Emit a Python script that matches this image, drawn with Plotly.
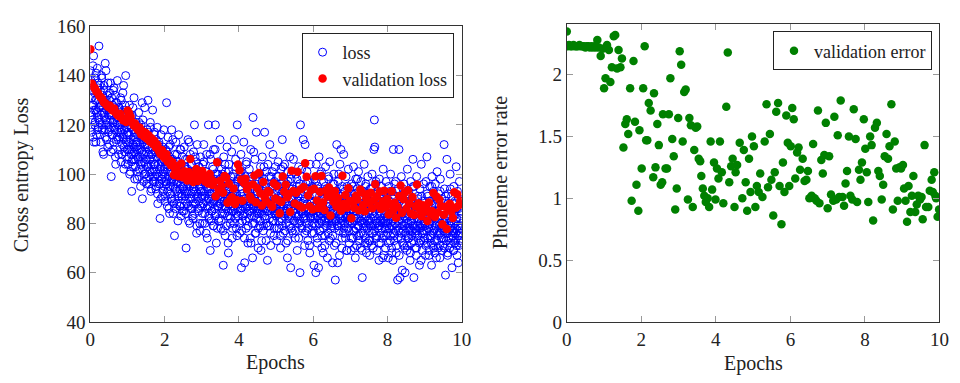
import plotly.graph_objects as go

# ---------------- data ----------------
# training loss, logged at even batches
loss_values_even = [
    142,119,131,124,137,128,115,148,126,133,121,139,113,130,125,143,118,135,127,122,
    136,116,129,124,140,120,132,109,127,134,118,125,145,122,130,114,128,121,137,117,
    126,112,133,119,124,99,131,116,128,110,122,135,118,126,107,129,114,121,138,117,
    123,108,127,115,120,131,105,118,124,112,133,116,102,121,109,126,140,114,119,106,
    117,104,123,110,128,113,101,119,108,93,124,112,106,118,131,109,115,103,121,111,
    113,98,119,107,125,102,116,110,95,120,105,114,90,122,108,117,100,127,112,104,
    109,96,118,103,130,111,99,115,106,121,93,108,113,101,126,97,110,104,117,99,
    104,94,114,100,119,88,107,112,96,109,82,103,116,98,105,91,111,101,118,95,
    102,89,110,97,129,104,93,115,99,86,107,95,112,101,90,118,98,106,84,103,
    99,75,108,94,113,102,88,97,105,92,116,100,87,110,96,83,104,91,107,98,
    95,85,111,93,103,89,70,99,106,92,114,87,101,95,80,108,97,90,104,86,
    96,82,109,94,120,100,88,93,105,79,112,91,98,85,103,94,77,107,90,99,
    93,80,104,88,112,97,84,91,101,76,108,95,87,99,120,90,82,94,69,106,
    96,85,92,103,79,110,89,98,83,120,94,72,100,87,91,105,81,96,88,114,
    90,78,102,93,84,99,63,107,89,95,75,101,86,92,111,83,97,68,104,90,
    94,80,99,87,109,74,92,85,100,89,114,96,82,103,78,91,120,86,98,88,
    90,76,101,86,108,62,94,81,97,88,113,84,64,99,90,78,105,87,93,72,
    96,85,102,89,74,110,91,83,98,66,123,87,95,80,106,89,76,117,92,84,
    88,70,100,86,95,79,103,69,91,84,107,94,77,98,88,117,82,96,73,101,
    89,65,104,85,93,79,112,90,71,99,86,94,81,108,88,75,97,84,103,90,
    87,73,99,84,105,91,78,95,86,70,102,88,81,114,93,76,97,85,104,89,
    84,72,96,88,66,101,83,92,79,107,86,62,98,90,77,94,85,106,81,93,
    88,74,100,83,95,69,91,87,103,80,96,60,120,85,92,78,99,84,114,89,
    86,71,112,82,94,77,101,88,73,97,85,91,68,104,83,89,76,95,87,80,
    85,63,98,80,91,60,104,86,74,95,83,62,107,88,77,93,82,101,70,90,
    86,68,97,81,92,75,103,84,79,94,66,88,99,82,73,105,87,78,91,83,
    80,64,96,85,100,71,89,57,93,81,112,86,64,97,79,90,67,104,84,110,
    82,70,95,86,76,108,89,80,93,74,99,83,69,91,78,102,85,72,94,81,
    83,69,96,80,92,74,103,85,77,89,66,98,82,71,94,87,79,101,75,90,
    84,70,97,81,88,58,93,76,86,104,80,72,95,83,68,91,78,99,85,73,
    81,67,94,79,89,71,100,84,76,92,110,122,111,80,96,74,87,69,93,82,
    79,65,98,83,90,72,95,78,86,66,102,81,75,91,84,70,97,80,88,76,
    81,66,95,78,89,73,100,84,70,93,79,65,110,86,75,91,80,97,68,88,
    83,57,94,77,110,82,58,90,74,99,85,61,79,92,71,96,83,60,87,76,
    80,69,102,84,74,93,78,88,65,97,81,72,90,77,106,83,58,95,79,70,
    86,67,99,82,75,91,78,87,63,94,80,73,104,85,69,89,77,96,81,74,
    80,67,97,82,107,72,91,78,86,69,95,81,74,89,63,99,83,71,93,77,
    84,68,96,79,88,73,101,82,70,92,76,87,66,98,80,74,90,79,85,71,
    78,112,94,81,59,89,73,106,83,68,92,77,86,70,100,79,74,91,62,85,
    77,69,95,80,72,88,76,103,82,67,93,75,86,71,97,79,73,89,76,84,
]
# training loss, logged at odd batches
loss_values_odd = [
    125,138,117,131,122,144,128,113,135,120,130,126,141,116,133,123,137,119,152,127,
    121,134,113,128,139,118,125,131,108,136,123,129,115,142,120,126,132,111,127,124,
    118,130,122,137,109,125,116,128,121,134,113,127,119,132,104,123,129,115,126,120,
    114,127,119,110,125,117,130,108,121,115,124,136,111,118,128,104,122,113,116,110,
    112,120,107,116,100,124,110,114,105,119,109,127,103,115,111,98,117,106,113,108,
    110,101,116,106,121,99,112,107,118,104,109,129,102,113,97,115,105,111,100,114,
    106,98,112,103,117,108,96,110,101,119,104,94,108,113,99,106,102,116,97,109,
    101,95,107,111,92,104,99,113,96,102,108,90,105,98,110,100,93,106,97,103,
    99,91,105,96,109,87,101,94,111,98,84,103,92,106,97,89,100,114,95,88,
    97,90,104,86,100,93,108,96,81,99,91,103,94,87,110,98,92,85,101,95,
    94,87,100,91,106,84,97,93,88,102,96,81,113,90,98,86,104,92,99,83,
    93,88,101,95,84,107,90,97,76,99,92,86,103,89,95,80,100,93,87,97,
    91,84,98,88,105,93,80,96,89,101,86,74,94,90,83,99,87,108,92,81,
    90,85,97,88,102,79,93,86,110,91,84,96,89,78,100,87,94,82,98,90,
    88,81,95,86,100,77,92,89,84,104,87,93,79,97,90,85,72,101,88,83,
    89,82,96,85,91,78,99,87,93,80,95,86,106,84,92,75,97,88,83,90,
    88,80,95,85,101,77,92,87,83,98,90,74,96,86,81,104,89,84,93,79,
    87,82,97,85,91,72,99,88,80,94,86,109,83,90,76,96,88,82,93,85,
    86,78,94,84,100,81,90,87,73,97,85,92,79,103,88,83,95,86,80,91,
    85,79,93,87,99,82,90,76,95,86,84,101,88,81,92,78,96,85,89,83,
    86,78,93,84,99,81,89,85,75,96,87,82,92,79,103,86,83,90,77,95,
    85,80,91,87,73,97,84,89,82,94,86,78,100,83,90,85,76,93,88,81,
    84,77,92,86,98,80,89,83,74,95,87,81,91,85,102,79,88,84,93,82,
    83,76,90,85,96,80,88,78,93,84,86,71,97,82,89,85,79,92,83,87,
    84,76,91,82,97,79,87,83,72,94,85,80,89,77,100,84,81,88,75,93,
    83,78,90,85,71,95,82,87,80,92,84,76,98,81,88,83,74,91,86,79,
    82,75,90,84,96,78,87,81,72,93,85,79,89,83,100,77,86,82,91,80,
    81,74,88,83,94,78,86,76,91,82,84,69,95,80,87,83,77,90,81,85,
    82,74,89,80,95,77,85,81,70,92,83,78,87,75,98,82,79,86,73,91,
    81,76,88,83,69,93,80,85,78,90,82,74,96,79,86,81,72,89,84,77,
    80,73,88,82,94,76,85,79,70,91,83,77,87,81,97,75,84,80,89,78,
    79,72,86,81,92,76,84,74,89,80,82,67,93,78,85,81,75,88,79,83,
    80,72,87,78,93,75,83,79,68,90,81,76,85,73,96,80,77,84,71,89,
    79,74,86,81,67,91,78,83,76,88,80,72,94,77,84,79,70,87,82,75,
    78,71,86,80,92,74,83,77,68,89,81,75,85,79,95,73,82,78,87,76,
    77,70,84,79,90,74,82,72,87,78,80,65,91,76,83,79,73,86,77,81,
    79,71,86,77,92,74,82,78,67,89,80,75,84,72,95,79,76,83,70,88,
    78,73,85,80,66,90,77,82,75,87,79,71,93,76,83,78,69,86,81,74,
    77,70,85,79,91,73,82,76,67,88,80,74,84,78,94,72,81,77,86,75,
    76,69,83,78,89,73,81,71,86,77,79,64,90,75,82,78,72,85,76,80,
]

val_loss_values = [
    150.7,136.8,135.5,134.9,133.6,133.0,131.8,131.2,130.5,129.2,128.8,128.0,127.3,127.9,126.4,125.8,126.6,124.9,124.1,123.6,124.5,122.8,121.9,122.6,121.2,
    125.8,124.7,123.2,121.0,119.8,120.6,118.7,117.9,118.9,116.2,117.4,115.3,116.8,114.4,115.8,113.1,114.6,112.2,113.5,110.8,111.9,109.4,108.2,109.8,107.1,
    106.4,108.1,104.9,105.7,103.6,104.8,99.6,101.8,103.2,99.1,100.6,104.3,98.7,101.2,99.8,97.4,100.9,106.1,98.3,96.8,99.9,102.1,97.2,100.4,98.9,
    101.3,99.4,97.0,98.8,96.2,100.1,97.9,95.6,96.9,91.0,104.8,93.8,97.3,95.1,92.4,99.2,98.6,88.4,96.1,89.8,90.6,94.2,87.9,89.5,103.9,
    101.6,97.8,89.2,96.4,98.1,93.9,95.3,90.9,89.7,95.8,99.4,88.6,94.3,100.5,92.2,87.3,96.8,90.4,88.9,93.1,92.6,87.6,86.8,96.3,90.1,
    95.2,89.4,84.1,88.7,99.0,92.8,95.7,90.6,91.9,84.6,101.4,93.2,88.1,92.4,101.0,87.2,93.9,86.5,94.8,104.4,98.9,91.3,87.0,93.6,85.7,
    94.1,99.1,89.3,86.2,92.7,99.2,88.5,85.4,93.4,90.9,94.6,83.2,91.7,88.8,93.0,86.9,90.3,87.8,85.1,99.3,88.0,91.5,86.4,94.3,89.1,
    82.1,88.6,86.3,91.2,89.7,85.3,93.8,92.5,87.5,84.9,90.2,91.9,88.3,92.4,86.1,89.4,95.9,90.8,87.2,92.9,85.8,88.9,93.3,86.6,90.0,
    83.6,87.9,93.0,85.2,88.4,82.3,86.7,91.1,95.4,84.3,89.8,92.6,86.0,93.5,88.1,84.0,90.7,83.4,86.9,95.8,88.2,85.6,82.9,87.4,84.7,
    86.1,81.0,88.5,83.9,85.0,92.3,82.6,90.9,84.4,89.6,87.1,79.6,83.5,86.8,77.7,85.9,88.0,84.8,82.2,92.6,86.4,91.8,87.3,89.2,88.0,
]

err_epochs = [
    0.00,0.02,0.06,0.10,0.14,0.18,0.22,0.26,0.30,0.34,0.38,0.42,0.46,0.50,0.54,0.58,0.62,0.66,0.70,0.74,0.78,
    0.82,0.86,0.91,0.96,1.00,1.04,1.08,1.13,1.17,1.21,1.26,1.30,1.35,1.39,1.44,1.48,1.52,1.57,1.61,1.65,1.70,1.74,1.79,1.83,1.87,1.92,1.95,
    2.01,2.05,2.09,2.13,2.16,2.20,2.25,2.32,2.34,2.38,2.43,2.47,2.52,2.56,2.58,2.65,2.69,2.74,2.78,2.83,2.87,2.91,2.95,2.99,
    3.03,3.07,3.11,3.15,3.19,3.25,3.29,3.33,3.38,3.42,3.46,3.50,3.54,3.58,3.61,3.65,3.69,3.73,3.78,3.82,3.86,3.90,3.95,3.99,
    4.03,4.07,4.11,4.16,4.20,4.28,4.32,4.36,4.41,4.45,4.50,4.53,4.57,4.64,4.71,4.75,4.80,4.84,4.89,4.93,4.97,
    5.02,5.06,5.10,5.15,5.19,5.25,5.31,5.36,5.40,5.45,5.49,5.54,5.58,5.62,5.67,5.71,5.76,5.80,5.84,5.89,5.93,5.97,
    6.01,6.05,6.09,6.13,6.18,6.22,6.26,6.33,6.38,6.43,6.47,6.51,6.57,6.61,6.65,6.70,6.74,6.78,6.83,6.87,6.91,6.95,
    7.00,7.04,7.09,7.15,7.18,7.23,7.27,7.31,7.35,7.40,7.44,7.48,7.52,7.57,7.61,7.66,7.70,7.75,7.79,7.84,7.88,7.92,7.97,
    8.01,8.05,8.09,8.14,8.18,8.22,8.27,8.32,8.36,8.40,8.45,8.49,8.53,8.58,8.62,8.66,8.71,8.75,8.80,8.84,8.88,8.93,8.97,
    9.02,9.05,9.09,9.13,9.17,9.22,9.26,9.30,9.35,9.39,9.43,9.48,9.52,9.55,9.60,9.64,9.70,9.74,9.79,9.82,9.86,9.89,9.91,9.95,9.99,
]
err_values = [
    2.35,2.23,2.24,2.23,2.23,2.24,2.23,2.23,2.23,2.24,2.23,2.23,2.23,2.22,2.23,2.23,2.22,2.23,2.22,2.23,2.22,
    2.28,2.22,2.15,2.21,1.89,1.97,2.24,2.20,1.94,2.06,2.31,2.32,2.05,2.20,2.06,2.13,1.41,1.60,1.64,1.52,1.89,0.98,2.11,1.62,1.11,0.90,1.55,
    1.24,1.89,2.23,1.47,1.47,1.77,1.71,1.17,1.85,1.25,1.60,1.43,1.11,1.13,1.68,1.24,1.24,1.68,1.97,1.48,1.34,0.91,1.08,1.65,
    2.19,2.08,1.46,1.86,1.88,0.99,1.65,1.59,0.93,1.39,1.57,1.58,1.32,1.30,1.18,1.08,1.02,0.97,1.00,0.93,1.46,1.07,1.29,0.99,
    1.24,1.16,1.46,1.21,0.96,1.74,2.18,1.13,1.26,1.32,0.93,1.21,1.27,1.45,1.00,1.39,1.13,0.90,1.32,1.05,1.50,
    1.42,0.93,1.10,1.05,1.20,1.01,1.46,1.76,1.09,1.52,1.15,0.86,1.21,1.70,1.77,1.10,0.79,1.29,1.05,1.67,1.45,1.10,
    1.42,1.73,1.64,1.16,1.37,1.41,1.23,1.32,1.14,1.15,1.22,1.00,1.02,1.44,1.00,0.98,1.71,0.96,1.31,1.20,1.35,1.61,
    0.92,1.34,1.03,0.98,1.66,0.99,1.51,1.01,1.79,1.01,0.94,1.12,1.22,1.50,1.02,0.99,1.72,1.48,0.97,1.23,1.15,1.29,1.64,
    1.40,1.21,0.97,1.50,1.43,0.82,1.57,1.61,1.22,1.18,0.99,1.11,1.34,1.52,1.32,1.42,1.76,0.91,1.46,1.24,0.98,1.25,1.24,
    1.27,1.08,0.98,0.81,1.10,0.89,1.02,1.18,0.89,0.95,1.02,0.99,1.01,0.83,1.43,0.93,0.93,1.06,1.15,1.05,1.21,1.02,1.00,0.85,0.91,
]

loss_ticks = [40, 60, 80, 100, 120, 140, 160]
err_ticks = [0, 0.5, 1, 1.5, 2]
epoch_ticks = [0, 2, 4, 6, 8, 10]

# x positions of evenly spaced logging steps (odd batches sit halfway between even ones)
n_even = len(loss_values_even)
step = 10 / (n_even - 1)
loss_epochs = [i * step for i in range(n_even)] + [min(10.0, (i + 0.5) * step) for i in range(len(loss_values_odd))]
loss_values = loss_values_even + loss_values_odd
val_epochs = [10 * i / (len(val_loss_values) - 1) for i in range(len(val_loss_values))]

# ---------------- figure ----------------
W, H = 960, 383
FONT = "Liberation Serif"
fig = go.Figure()

fig.add_trace(go.Scatter(
    x=loss_epochs, y=loss_values, mode="markers", name="loss",
    marker=dict(symbol="circle-open", size=8, color="#0000ff", line=dict(width=1)),
    xaxis="x", yaxis="y", legend="legend"))
fig.add_trace(go.Scatter(
    x=val_epochs, y=val_loss_values, mode="markers", name="validation loss",
    marker=dict(symbol="circle", size=8.5, color="#ff0000"),
    xaxis="x", yaxis="y", legend="legend"))
fig.add_trace(go.Scatter(
    x=err_epochs, y=err_values, mode="markers", name="validation error",
    marker=dict(symbol="circle", size=8.5, color="#008000"),
    xaxis="x2", yaxis="y2", legend="legend2"))

def px_x(p):
    return p / W

def px_y(p):
    return 1 - p / H

axis_common = dict(
    showgrid=False, zeroline=False, showline=True, linecolor="#333333", linewidth=1,
    mirror="allticks", ticks="inside", ticklen=6, tickwidth=1, tickcolor="#999999",
    tickfont=dict(family=FONT, size=19, color="#222222"),
)

fig.update_layout(
    width=W, height=H,
    margin=dict(l=0, r=0, t=0, b=0),
    paper_bgcolor="white", plot_bgcolor="white",
    font=dict(family=FONT, size=19, color="#222222"),
    xaxis=dict(domain=[px_x(86.7), px_x(464)], range=[0, 10], tickvals=epoch_ticks,
               anchor="y", **axis_common),
    yaxis=dict(domain=[px_y(330), px_y(17.3)], range=[40, 160], tickvals=loss_ticks,
               anchor="x", **axis_common),
    xaxis2=dict(domain=[px_x(570.7), px_x(949.3)], range=[0, 10], tickvals=epoch_ticks,
                anchor="y2", **axis_common),
    yaxis2=dict(domain=[px_y(330), px_y(15.3)], range=[0, 2.406], tickvals=err_ticks,
                ticktext=[str(t) for t in err_ticks], anchor="x2", **axis_common),
    legend=dict(x=px_x(455.7), y=px_y(24.3), xanchor="right", yanchor="top",
                bgcolor="white", bordercolor="#222222", borderwidth=1,
                font=dict(family=FONT, size=18, color="#222222"), itemwidth=30,
                tracegroupgap=0),
    legend2=dict(x=px_x(941.7), y=px_y(22.7), xanchor="right", yanchor="top",
                 bgcolor="white", bordercolor="#222222", borderwidth=1,
                 font=dict(family=FONT, size=18, color="#222222"), itemwidth=30),
    showlegend=True,
)

ann_font = dict(family=FONT, size=20, color="#222222")
fig.add_annotation(text="Epochs", xref="paper", yref="paper", x=px_x(275.3), y=px_y(373),
                   showarrow=False, font=ann_font, xanchor="center", yanchor="middle")
fig.add_annotation(text="Epochs", xref="paper", yref="paper", x=px_x(760), y=px_y(374),
                   showarrow=False, font=ann_font, xanchor="center", yanchor="middle")
fig.add_annotation(text="Cross entropy Loss", xref="paper", yref="paper", x=px_x(17), y=px_y(174),
                   showarrow=False, font=ann_font, textangle=-90, xanchor="center", yanchor="middle")
fig.add_annotation(text="Phoneme error rate", xref="paper", yref="paper", x=px_x(503), y=px_y(172.5),
                   showarrow=False, font=ann_font, textangle=-90, xanchor="center", yanchor="middle")

fig.write_html("out.html")
